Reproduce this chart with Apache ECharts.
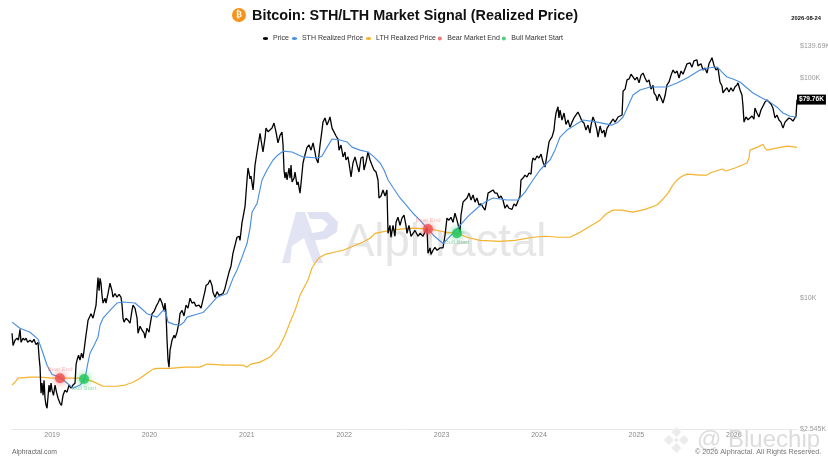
<!DOCTYPE html>
<html><head><meta charset="utf-8">
<style>html,body{margin:0;padding:0;background:#fff}#c{width:828px;height:466px}</style>
<script src="https://cdn.jsdelivr.net/npm/echarts@6/dist/echarts.min.js"></script></head>
<body><div id="c"></div>
<script>
// [decimal year, USD]
const priceData=[[2018.589,6930],[2018.600,6100],[2018.620,6440],[2018.640,6580],[2018.655,6440],[2018.671,7220],[2018.682,6300],[2018.702,6580],[2018.718,6440],[2018.733,6580],[2018.750,6300],[2018.774,6440],[2018.795,6300],[2018.815,6500],[2018.835,6150],[2018.856,6300],[2018.867,5400],[2018.877,4860],[2018.887,3700],[2018.897,4110],[2018.908,3620],[2018.918,4240],[2018.928,3510],[2018.939,3260],[2018.949,3160],[2018.960,3620],[2018.969,4030],[2018.979,3740],[2018.990,4110],[2019.000,3820],[2019.015,3620],[2019.031,4030],[2019.046,3740],[2019.062,3510],[2019.082,3330],[2019.097,3260],[2019.113,3620],[2019.133,3820],[2019.154,3740],[2019.175,4030],[2019.195,3900],[2019.215,4030],[2019.236,4110],[2019.247,5000],[2019.257,5230],[2019.272,5500],[2019.287,5230],[2019.303,5620],[2019.318,5340],[2019.329,5800],[2019.339,6300],[2019.349,6800],
[2019.359,7300],[2019.370,7940],[2019.380,7780],[2019.390,8300],[2019.400,8500],[2019.421,8110],[2019.441,8280],[2019.452,9300],[2019.462,10800],[2019.472,12400],[2019.483,10800],[2019.493,12300],[2019.503,11700],[2019.513,10300],[2019.524,9500],[2019.544,10000],[2019.554,9500],[2019.575,10500],[2019.595,11700],[2019.616,10800],[2019.626,10100],[2019.647,10500],[2019.667,10100],[2019.688,10400],[2019.708,10100],[2019.719,9300],[2019.729,8110],[2019.739,7780],[2019.760,8110],[2019.780,7940],[2019.801,7690],[2019.821,8800],[2019.832,9300],[2019.852,9000],[2019.873,8110],[2019.883,6930],[2019.904,7450],[2019.924,7150],[2019.945,6930],[2019.955,6580],[2019.975,7300],[2019.996,7000],
[2020.006,7530],[2020.027,8500],[2020.047,8700],[2020.068,9150],[2020.088,9500],[2020.109,10000],[2020.129,9500],[2020.150,8800],[2020.160,9500],[2020.170,8600],[2020.181,6440],[2020.191,5230],[2020.201,4860],[2020.212,5800],[2020.222,6100],[2020.232,6440],[2020.253,6790],[2020.263,6580],[2020.283,7000],[2020.304,7780],[2020.314,8500],[2020.335,8800],[2020.355,8300],[2020.376,9300],[2020.396,9000],[2020.417,10000],[2020.437,9500],[2020.458,9600],[2020.478,9200],[2020.509,9300],[2020.530,9000],[2020.550,9100],[2020.571,10800],[2020.581,11400],[2020.602,11600],[2020.622,12100],[2020.643,11400],[2020.653,10600],[2020.674,10100],[2020.694,10700],[2020.715,10300],[2020.735,10500],[2020.756,10500],[2020.776,11100],[2020.797,12100],[2020.817,13100],[2020.838,14000],[2020.858,16000],[2020.879,17400],[2020.899,18900],[2020.920,19100],[2020.930,18300],[2020.951,22100],[2020.961,23300],[2020.982,26200],
[2021.002,34400],[2021.012,39000],[2021.023,37000],[2021.033,34800],[2021.043,35800],[2021.064,31000],[2021.074,34800],[2021.084,40200],[2021.105,46100],[2021.125,52300],[2021.136,56000],[2021.146,52300],[2021.166,46100],[2021.187,53400],[2021.197,59200],[2021.218,57000],[2021.238,58100],[2021.259,59200],[2021.279,62400],[2021.300,56800],[2021.320,50700],[2021.341,54900],[2021.361,56800],[2021.372,49600],[2021.382,38200],[2021.392,35100],[2021.403,37400],[2021.413,34400],[2021.433,39000],[2021.444,35100],[2021.454,40200],[2021.464,33700],[2021.485,35100],[2021.495,37400],[2021.515,32700],[2021.526,33700],[2021.546,30000],[2021.556,33000],[2021.577,41100],[2021.597,44700],[2021.618,48400],[2021.639,49600],[2021.659,47000],[2021.680,50700],[2021.700,46000],[2021.710,43300],[2021.731,41100],[2021.752,49600],[2021.772,58000],[2021.782,63000],[2021.803,65800],[2021.823,61100],[2021.844,64400],[2021.854,66500],[2021.875,59200],[2021.895,58000],[2021.916,54500],[2021.936,52800],[2021.947,47000],[2021.967,49600],[2021.988,43800],
[2022.008,46100],[2022.018,42400],[2022.039,43800],[2022.060,38200],[2022.070,35500],[2022.090,41100],[2022.111,43800],[2022.132,40200],[2022.152,37400],[2022.172,43300],[2022.193,43800],[2022.203,38200],[2022.224,41500],[2022.244,46100],[2022.265,42400],[2022.285,40200],[2022.306,38200],[2022.327,37400],[2022.347,34400],[2022.357,28500],[2022.378,29100],[2022.398,31000],[2022.419,29100],[2022.439,31000],[2022.450,19700],[2022.470,21400],[2022.480,18900],[2022.501,21400],[2022.521,19100],[2022.532,22100],[2022.552,23300],[2022.573,21400],[2022.593,23100],[2022.614,23800],[2022.634,21400],[2022.645,19700],[2022.665,21400],[2022.686,19100],[2022.706,18900],[2022.727,20300],[2022.758,19100],[2022.778,19700],[2022.809,19100],[2022.840,20500],[2022.850,21000],[2022.860,16000],[2022.881,16900],[2022.891,15800],[2022.912,16500],[2022.932,17000],[2022.953,16500],[2022.983,16900],
[2023.014,16900],[2023.035,19300],[2023.055,23100],[2023.076,22600],[2023.096,23300],[2023.117,22100],[2023.137,24300],[2023.158,22600],[2023.178,20800],[2023.189,19900],[2023.199,23800],[2023.220,27300],[2023.240,27900],[2023.261,28500],[2023.282,30000],[2023.302,27900],[2023.323,29400],[2023.343,27300],[2023.363,28500],[2023.384,26500],[2023.405,26800],[2023.425,25900],[2023.446,25100],[2023.466,27900],[2023.477,30000],[2023.497,30000],[2023.528,31000],[2023.548,30000],[2023.569,30000],[2023.589,28500],[2023.610,29100],[2023.630,27900],[2023.651,25600],[2023.671,26500],[2023.692,25600],[2023.723,25300],[2023.743,26800],[2023.764,26200],[2023.784,27600],[2023.805,29100],[2023.815,34400],[2023.836,35100],[2023.856,36200],[2023.877,35500],[2023.897,37000],[2023.918,36600],[2023.928,41100],[2023.938,43300],[2023.959,42400],[2023.979,44200],[2024.000,43300],[2024.021,45100],[2024.041,41500],[2024.062,39400],[2024.082,44700],[2024.103,51200],[2024.113,52300],[2024.134,54000],[2024.154,58000],[2024.164,64400],[2024.175,69300],[2024.195,74000],[2024.205,65800],[2024.216,71500],[2024.236,64400],[2024.257,69300],[2024.277,61500],[2024.298,64500],[2024.318,59800],[2024.339,63000],[2024.359,65800],[2024.380,67900],[2024.400,70000],[2024.421,67000],[2024.441,63600],[2024.462,62400],[2024.482,58000],[2024.503,61100],[2024.523,56200],[2024.534,61100],[2024.554,66500],[2024.575,63000],[2024.595,58000],[2024.606,53900],[2024.627,60500],[2024.647,56200],[2024.668,58000],[2024.678,53900],[2024.699,59200],[2024.719,61100],[2024.740,63000],[2024.760,65100],[2024.781,63000],[2024.812,66500],[2024.832,65800],[2024.853,67900],[2024.863,87000],[2024.884,89000],[2024.904,98000],[2024.925,99000],[2024.945,104000],[2024.965,105200],[2024.986,98000],
[2025.007,100900],[2025.027,95000],[2025.048,103000],[2025.068,105200],[2025.089,99900],[2025.109,95900],[2025.130,97900],[2025.150,89000],[2025.171,92500],[2025.181,85500],[2025.202,83000],[2025.212,78800],[2025.233,84500],[2025.253,81100],[2025.273,76900],[2025.294,83000],[2025.314,93000],[2025.335,95900],[2025.356,103000],[2025.376,108600],[2025.397,105200],[2025.417,107500],[2025.438,100000],[2025.458,107500],[2025.479,104000],[2025.499,102000],[2025.520,116000],[2025.530,118300],[2025.550,117200],[2025.571,112000],[2025.591,119600],[2025.622,120900],[2025.632,113500],[2025.663,116000],[2025.684,108600],[2025.704,110900],[2025.725,105200],[2025.745,116000],[2025.766,120900],[2025.776,123500],[2025.797,114000],[2025.817,108600],[2025.838,110900],[2025.858,95900],[2025.879,92000],[2025.889,85500],[2025.910,88200],[2025.930,90300],[2025.950,86400],[2025.971,90300],[2025.992,87000],[2026.012,91000],[2026.033,93000],[2026.043,95000],[2026.064,88200],[2026.084,83700],[2026.094,75000],[2026.105,63000],[2026.125,66500],[2026.146,64600],[2026.166,64000],[2026.187,67200],[2026.207,65000],[2026.217,73000],[2026.238,69300],[2026.258,66500],[2026.279,71500],[2026.300,74600],[2026.320,77700],[2026.341,79400],[2026.361,80200],[2026.382,76200],[2026.402,73000],[2026.423,65800],[2026.443,67900],[2026.464,64400],[2026.484,63000],[2026.505,59200],[2026.526,63000],[2026.546,64400],[2026.566,65800],[2026.587,65100],[2026.608,63700],[2026.628,63000],[2026.639,67200],[2026.649,79760]];
const sthData=[[2018.589,7780],[2018.671,7300],[2018.774,7000],[2018.856,6510],[2018.897,5800],[2018.949,4960],[2019.0,4500],[2019.082,4380],[2019.144,4150],[2019.216,3900],[2019.287,4030],[2019.329,4240],[2019.349,4560],[2019.370,5120],[2019.390,5620],[2019.431,6100],[2019.472,6650],[2019.493,7530],[2019.524,8110],[2019.595,8800],[2019.667,9500],[2019.729,9600],[2019.852,9500],[2019.914,9000],[2019.975,8500],[2020.078,8200],[2020.140,8800],[2020.170,8600],[2020.191,7780],[2020.253,7600],[2020.314,7530],[2020.355,7780],[2020.386,8200],[2020.468,8400],[2020.550,8600],[2020.622,9300],[2020.694,10100],[2020.797,10500],[2020.858,12300],[2020.899,13400],[2020.951,15350],[2021.002,17700],[2021.033,20800],[2021.054,24600],[2021.105,26900],[2021.156,34400],[2021.207,38200],[2021.269,42400],[2021.320,44700],[2021.372,46500],[2021.464,46100],[2021.577,43800],[2021.731,43300],[2021.772,44200],[2021.823,48400],[2021.875,52800],[2021.957,52300],[2022.029,51200],[2022.080,48500],[2022.162,47000],[2022.244,46100],[2022.306,43800],[2022.368,41100],[2022.409,38200],[2022.450,34400],[2022.511,31300],[2022.573,28500],[2022.634,26500],[2022.706,24300],[2022.778,22600],[2022.850,20800],[2022.932,19000],[2023.014,17700],[2023.066,18700],[2023.127,19900],[2023.189,21400],[2023.271,23500],[2023.363,25600],[2023.446,27300],[2023.528,28500],[2023.600,28200],[2023.671,27900],[2023.784,27900],[2023.856,30300],[2023.938,34400],[2024.010,38200],[2024.082,41100],[2024.113,42400],[2024.164,47000],[2024.216,53900],[2024.287,58000],[2024.370,61100],[2024.452,64400],[2024.596,63000],[2024.750,61100],[2024.811,63000],[2024.863,66500],[2024.914,74600],[2024.965,83700],[2025.037,88200],[2025.140,91000],[2025.314,91000],[2025.417,94900],[2025.520,100000],[2025.653,108600],[2025.735,111000],[2025.828,112200],[2025.879,106300],[2025.930,101000],[2025.992,98900],[2026.064,95900],[2026.136,90000],[2026.197,85500],[2026.289,81100],[2026.372,77700],[2026.454,73000],[2026.505,69300],[2026.577,67000],[2026.649,66500]];
const lthData=[[2018.589,4030],[2018.62,4150],[2018.651,4330],[2018.774,4380],[2018.877,4380],[2019.0,4330],[2019.133,4330],[2019.287,4330],[2019.411,4200],[2019.524,3980],[2019.667,3980],[2019.749,4030],[2019.832,4150],[2019.904,4330],[2019.975,4560],[2020.037,4760],[2020.078,4800],[2020.212,4800],[2020.365,4860],[2020.519,4860],[2020.591,5020],[2020.776,4960],[2020.961,4960],[2021.002,4860],[2021.043,5020],[2021.136,5120],[2021.238,5400],[2021.331,5980],[2021.392,6790],[2021.444,7780],[2021.495,8800],[2021.546,10300],[2021.628,12100],[2021.669,13700],[2021.721,14900],[2021.752,15350],[2021.803,15800],[2021.906,16200],[2021.988,16500],[2022.091,17200],[2022.193,18000],[2022.265,18700],[2022.316,19700],[2022.419,20100],[2022.573,20600],[2022.706,20800],[2022.881,20600],[2023.055,19900],[2023.158,19700],[2023.261,18900],[2023.394,18300],[2023.600,18100],[2023.753,18300],[2023.938,18900],[2024.062,19100],[2024.205,18900],[2024.318,18900],[2024.421,19900],[2024.524,21200],[2024.627,22600],[2024.688,24100],[2024.760,25100],[2024.853,25100],[2024.965,24600],[2025.088,25300],[2025.212,26500],[2025.263,27900],[2025.325,30000],[2025.366,32200],[2025.417,34400],[2025.468,35800],[2025.520,36600],[2025.653,36200],[2025.725,36200],[2025.756,37000],[2025.879,38600],[2025.920,37800],[2026.012,39000],[2026.136,41100],[2026.156,43300],[2026.166,47000],[2026.238,48400],[2026.300,50000],[2026.320,48000],[2026.341,47000],[2026.474,48400],[2026.556,49000],[2026.649,48400]];
const bearEnd=[[2019.082,4330],[2022.860,20600]];
const bullStart=[[2019.329,4290],[2023.158,19700]];
const yearTicks=[2019,2020,2021,2022,2023,2024,2025,2026];
const yTicks=[2545,10000,100000,139690];
const yTickLabels=['$2.545K','$10K','$100K','$139.69K'];
const fontFam='"Liberation Sans",Arial,sans-serif';
const chart=echarts.init(document.getElementById('c'),null,{renderer:'canvas'});
function diamond(cx,cy,r){return {type:'polygon',shape:{points:[[cx,cy-r],[cx+r,cy],[cx,cy+r],[cx-r,cy]]},style:{fill:'#ececec'},z:50,silent:true};}
chart.setOption({
 animation:false,backgroundColor:'#fff',
 textStyle:{fontFamily:fontFam},
 title:{text:'Bitcoin: STH/LTH Market Signal (Realized Price)',left:247,top:4,textStyle:{fontSize:14.4,fontWeight:'bold',color:'#111',fontFamily:fontFam}},
 legend:{top:30,left:257,itemWidth:5,itemHeight:4,itemGap:2,textStyle:{fontSize:7,color:'#333'},
  data:['Price','STH Realized Price','LTH Realized Price','Bear Market End','Bull Market Start']},
 grid:{left:12,right:31,top:46,bottom:37,outerBoundsMode:'none'},
 xAxis:{type:'value',min:2018.589,max:2026.649,splitLine:{show:false},
  axisLine:{lineStyle:{color:'#e8e8e8'}},axisTick:{show:false},
  axisLabel:{customValues:yearTicks,fontSize:7,color:'#888',margin:3,formatter:v=>String(Math.round(v))}},
 yAxis:{type:'log',logBase:10,min:2545,max:139690,position:'right',splitLine:{show:false},axisLine:{show:false},axisTick:{show:false},
  axisLabel:{customValues:yTicks,fontSize:7,color:'#999',margin:3,align:'left',showMinLabel:true,showMaxLabel:true,
   formatter:v=>{let b=0,d=1e9;yTicks.forEach((t,i)=>{const e=Math.abs(Math.log(t)-Math.log(v));if(e<d){d=e;b=i}});return yTickLabels[b];}}},
 series:[
  {name:'Price',type:'line',data:priceData,showSymbol:false,symbol:'circle',symbolSize:3,z:3,lineStyle:{color:'#000',width:1.3},itemStyle:{color:'#000'},
   endLabel:{show:true,formatter:p=>'$'+(p.value[1]/1000).toFixed(2)+'K',backgroundColor:'#000',color:'#fff',fontSize:6.6,fontWeight:'bold',padding:[2,2,1,2],distance:0}},
  {name:'STH Realized Price',type:'line',data:sthData,showSymbol:false,symbol:'circle',symbolSize:3,z:4,lineStyle:{color:'#4a8fe0',width:1.15},itemStyle:{color:'#4a8fe0'}},
  {name:'LTH Realized Price',type:'line',data:lthData,showSymbol:false,symbol:'circle',symbolSize:3,z:2,lineStyle:{color:'#f4b32e',width:1.2},itemStyle:{color:'#f4b32e'}},
  {name:'Bear Market End',type:'scatter',data:bearEnd,symbolSize:10,z:5,itemStyle:{color:'#ef4d4d',shadowBlur:7,shadowColor:'rgba(239,77,77,.9)'},
   label:{show:true,formatter:'Bear End',position:'top',distance:1,fontSize:6,color:'rgba(239,100,100,.55)'}},
  {name:'Bull Market Start',type:'scatter',data:bullStart,symbolSize:10,z:5,itemStyle:{color:'#22c55e',shadowBlur:7,shadowColor:'rgba(34,197,94,.9)'},
   label:{show:true,formatter:'Bull Start',position:'bottom',distance:1,fontSize:6,color:'rgba(34,170,90,.55)'}}
 ],
 graphic:[
  {type:'circle',shape:{cx:239,cy:15,r:7},style:{fill:'#f7931a'},z:10},
  {type:'text',style:{x:239,y:15,text:'₿',fill:'#fff',font:'bold 9px "DejaVu Sans"',align:'center',verticalAlign:'middle'},z:11},
  {type:'text',style:{x:821,y:18,text:'2026-08-24',fill:'#111',font:'bold 5.8px "Liberation Sans"',align:'right',verticalAlign:'middle'}},
  {type:'text',style:{x:12,y:452,text:'Alphractal.com',fill:'#666',font:'6.8px "Liberation Sans"',verticalAlign:'middle'}},
  {type:'polygon',shape:{points:[[282,263],[296,212],[305,212],[323,263],[313,263],[304,238],[292,246],[290,263]]},style:{fill:'#e2e4f4'},z:0,silent:true},
  {type:'polygon',shape:{points:[[307,212],[328,212],[338,222],[337,232],[326,239],[311,241],[308,234],[323,231],[328,224],[322,219],[310,219]]},style:{fill:'#dfe1f2'},z:0,silent:true},
  {type:'text',style:{x:344,y:243,text:'Alphractal',fill:'#e6e6e6',font:'45.5px "Liberation Sans"',verticalAlign:'middle'},z:0,silent:true},
  diamond(676.5,432,5),diamond(669,440,5),diamond(684,440,5),diamond(676.5,448,5),diamond(676.5,440,2.5),
  {type:'text',style:{x:697,y:440,text:'@ Bluechip',fill:'rgba(205,205,205,.7)',font:'24px "Liberation Sans"',verticalAlign:'middle'},z:50,silent:true},
  {type:'text',style:{x:695,y:452,text:'© 2026 Alphractal. All Rights Reserved.',fill:'#777',font:'7.2px "Liberation Sans"',verticalAlign:'middle'},z:51}
 ]
});
</script></body></html>
